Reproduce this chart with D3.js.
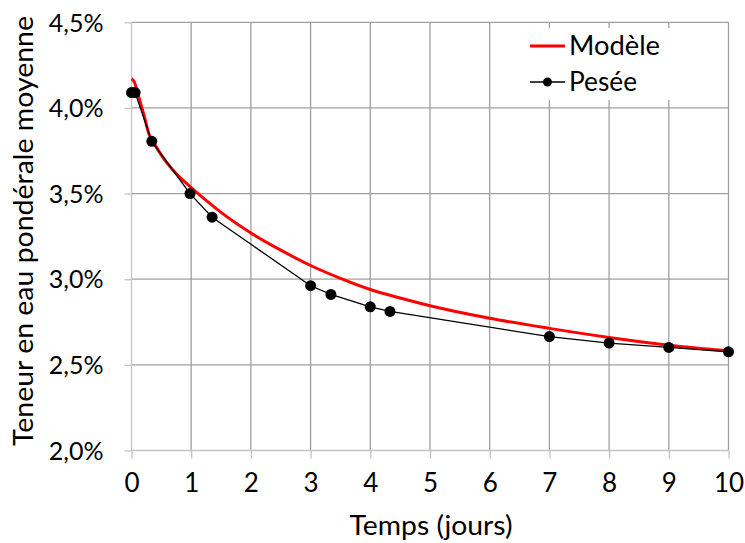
<!DOCTYPE html>
<html><head><meta charset="utf-8">
<script src="https://cdn.jsdelivr.net/npm/d3@7"></script>
<style>
html,body{margin:0;padding:0;background:#fff;}
svg{display:block;}
text{font-family:Lato,"Open Sans",sans-serif;fill:#000;}
</style></head>
<body>
<svg id="chart" width="745" height="543"></svg>
<script>
// Data
const peseeX = [0, 0.06, 0.34, 0.98, 1.35, 3.0, 3.34, 4.0, 4.33, 7.0, 8.0, 9.0, 10.0];
const peseeY = [4.09, 4.09, 3.805, 3.50, 3.362, 2.962, 2.911, 2.839, 2.812, 2.665, 2.627, 2.602, 2.576];
const modeleX = [0, 0.05, 0.1, 0.15, 0.2, 0.3, 0.4, 0.5, 0.7, 1.0, 1.25, 1.5, 2.0, 2.5, 3.0, 3.5, 4.0, 4.5, 5, 6, 7, 8, 9, 10];
const modeleY = [4.17, 4.15, 4.09, 4.03, 3.97, 3.84, 3.78, 3.725, 3.635, 3.535, 3.46, 3.39, 3.27, 3.17, 3.08, 3.005, 2.94, 2.89, 2.845, 2.772, 2.713, 2.66, 2.615, 2.583];
const xTicks = [0,1,2,3,4,5,6,7,8,9,10];
const yTicks = [2.0, 2.5, 3.0, 3.5, 4.0, 4.5];
const seriesNames = ["Modèle", "Pesée"];
const xTitle = "Temps (jours)";
const yTitle = "Teneur en eau pondérale moyenne";

const svg = d3.select("#chart");
const x = d3.scaleLinear().domain([0,10]).range([131.5, 728.5]);
const y = d3.scaleLinear().domain([2.0,4.5]).range([450.5, 22.3]);
const fmtY = d => d.toFixed(1).replace(".", ",") + "%";

const gridColor = "#a0a0a0", axisColor = "#c4c4c4";

// grid lines
svg.append("g").selectAll("line.v").data(xTicks.slice(1)).join("line")
  .attr("x1", d => x(d)).attr("x2", d => x(d))
  .attr("y1", y(4.5)).attr("y2", y(2.0))
  .attr("stroke", gridColor).attr("stroke-width", 1.3);
svg.append("g").selectAll("line.h").data(yTicks.slice(1)).join("line")
  .attr("x1", x(0)).attr("x2", x(10))
  .attr("y1", d => y(d)).attr("y2", d => y(d))
  .attr("stroke", gridColor).attr("stroke-width", 1.3);

// axes
const xAxis = d3.axisBottom(x).tickValues(xTicks).tickSize(8).tickFormat(d3.format("d"));
const gx = svg.append("g").attr("transform", `translate(0,${y(2.0)})`).call(xAxis);
gx.select(".domain").attr("stroke", axisColor).attr("stroke-width", 1.3).attr("d", `M${x(0)},0H${x(10)}`);
gx.selectAll(".tick line").attr("stroke", axisColor).attr("stroke-width", 1.3);
gx.selectAll(".tick text").attr("y", 23).attr("dy", "0.71em")
  .style("font-size", "26px").style("font-family", "Lato").attr("fill", "#000");

const yAxis = d3.axisLeft(y).tickValues(yTicks).tickSize(7).tickFormat(fmtY);
const gy = svg.append("g").attr("transform", `translate(${x(0)},0)`).call(yAxis);
gy.select(".domain").attr("stroke", axisColor).attr("stroke-width", 1.3).attr("d", `M0,${y(4.5)}V${y(2.0)}`);
gy.selectAll(".tick line").attr("stroke", axisColor).attr("stroke-width", 1.3);
gy.selectAll(".tick text").attr("x", -28).attr("dy", "0.35em")
  .style("font-size", "25px").style("font-family", "Lato").attr("fill", "#000");

// model line
const modele = modeleX.map((d,i) => [d, modeleY[i]]);
const pesee = peseeX.map((d,i) => [d, peseeY[i]]);
const line = d3.line().x(d => x(d[0])).y(d => y(d[1]));
svg.append("path").datum(modele)
  .attr("d", line.curve(d3.curveMonotoneX))
  .attr("fill", "none").attr("stroke", "#ff0000").attr("stroke-width", 3);

// pesee line + markers
svg.append("path").datum(pesee)
  .attr("d", d3.line().x(d => x(d[0])).y(d => y(d[1])))
  .attr("fill", "none").attr("stroke", "#000").attr("stroke-width", 1.3);
svg.append("g").selectAll("circle").data(pesee).join("circle")
  .attr("cx", d => x(d[0])).attr("cy", d => y(d[1])).attr("r", 5.5).attr("fill", "#000");

// legend
svg.append("rect").attr("x", 505).attr("y", 28).attr("width", 218).attr("height", 72).attr("fill", "#fff");
svg.append("line").attr("x1", 530).attr("x2", 565).attr("y1", 46).attr("y2", 46)
  .attr("stroke", "#ff0000").attr("stroke-width", 3);
svg.append("text").attr("x", 569).attr("y", 55).style("font-size", "26px")
  .attr("textLength", 91).attr("lengthAdjust", "spacingAndGlyphs").text(seriesNames[0]);
svg.append("line").attr("x1", 530).attr("x2", 565).attr("y1", 82).attr("y2", 82)
  .attr("stroke", "#000").attr("stroke-width", 1.3);
svg.append("circle").attr("cx", 547.5).attr("cy", 82).attr("r", 4.5).attr("fill", "#000");
svg.append("text").attr("x", 569).attr("y", 91).style("font-size", "26px")
  .attr("textLength", 68).attr("lengthAdjust", "spacingAndGlyphs").text(seriesNames[1]);

// titles
svg.append("text").attr("x", 431).attr("y", 535).attr("text-anchor", "middle")
  .style("font-size", "26px").attr("textLength", 163).attr("lengthAdjust", "spacingAndGlyphs").text(xTitle);
svg.append("text").attr("transform", "translate(33,231) rotate(-90)").attr("text-anchor", "middle")
  .style("font-size", "26px").attr("textLength", 430).attr("lengthAdjust", "spacingAndGlyphs").text(yTitle);
</script>
</body></html>
